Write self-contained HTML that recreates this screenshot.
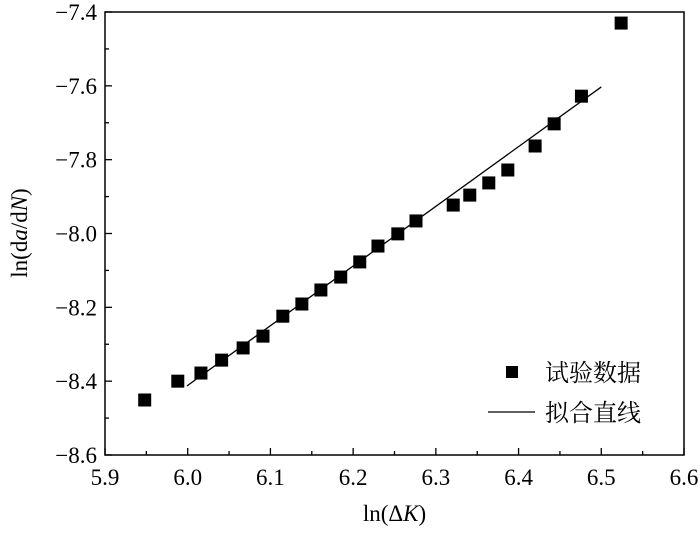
<!DOCTYPE html>
<html><head><meta charset="utf-8"><style>
body{margin:0;background:#fff}
svg text{font-family:"Liberation Serif","Noto Serif CJK SC",serif;fill:#000}
</style></head><body>
<svg id="c" width="700" height="530" xmlns="http://www.w3.org/2000/svg"></svg>
<script>
const xTicks=[5.9,6.0,6.1,6.2,6.3,6.4,6.5,6.6];
const yTicks=[-8.6,-8.4,-8.2,-8.0,-7.8,-7.6,-7.4];
const dataX=[5.948,5.988,6.016,6.041,6.067,6.091,6.115,6.138,6.161,6.185,6.208,6.230,6.254,6.276,6.321,6.341,6.364,6.387,6.420,6.443,6.476,6.524];
const dataY=[-8.451,-8.400,-8.378,-8.343,-8.310,-8.278,-8.224,-8.191,-8.153,-8.118,-8.077,-8.034,-8.001,-7.966,-7.923,-7.896,-7.863,-7.828,-7.763,-7.703,-7.628,-7.430];
const fitX=[5.999,6.500];
const fitY=[-8.413,-7.603];
const L=105,R=684,T=12,B=455;
const sx=v=>L+(v-5.9)/0.7*(R-L);
const sy=v=>B-(v+8.6)/1.2*(B-T);
const svg=document.getElementById('c');
const NS='http://www.w3.org/2000/svg';
function mk(t,a,txt){const e=document.createElementNS(NS,t);for(const k in a)e.setAttribute(k,a[k]);if(txt!=null)e.textContent=txt;svg.appendChild(e);return e;}
let e;
e=mk('rect',{x:L,y:T,width:R-L,height:B-T,fill:'none',stroke:'#000','stroke-width':1.5});


xTicks.forEach((v,i)=>{
  const x=sx(v);
  e=mk('line',{x1:x,x2:x,y1:B,y2:B-7,stroke:'#000','stroke-width':1.3});
  
  
  if(i<xTicks.length-1){const xm=sx(v+0.05);
    e=mk('line',{x1:xm,x2:xm,y1:B,y2:B-4,stroke:'#000','stroke-width':1.3});
    
    }
  e=mk('text',{x:x,y:B+30,'font-size':23,'text-anchor':'middle'},v.toFixed(1));
  
  
});
yTicks.forEach((v,i)=>{
  const y=sy(v);
  e=mk('line',{x1:L,x2:L+7,y1:y,y2:y,stroke:'#000','stroke-width':1.3});
  
  
  if(i<yTicks.length-1){const ym=sy(v+0.1);
    e=mk('line',{x1:L,x2:L+4,y1:ym,y2:ym,stroke:'#000','stroke-width':1.3});
    
    }
  e=mk('text',{x:L-8,y:y+8,'font-size':23,'text-anchor':'end'},'\u2212'+Math.abs(v).toFixed(1));
  
  
});
e=mk('line',{x1:sx(fitX[0]),y1:sy(fitY[0]),x2:sx(fitX[1]),y2:sy(fitY[1]),stroke:'#000','stroke-width':1.3});


dataX.forEach((v,i)=>{
  e=mk('rect',{x:sx(v)-6.5,y:sy(dataY[i])-6.5,width:13,height:13,fill:'#000'});
  
  
});
e=mk('text',{x:(L+R)/2,y:521,'font-size':23,'text-anchor':'middle'});
e.innerHTML='ln(&#916;<tspan font-style="italic">K</tspan>)';


e=mk('text',{x:0,y:0,'font-size':23,'text-anchor':'middle',transform:'translate(27,233) rotate(-90)'});
e.innerHTML='ln(d<tspan font-style="italic">a</tspan>/d<tspan font-style="italic">N</tspan>)';


e=mk('rect',{x:506,y:366,width:12,height:12,fill:'#000'});


e=mk('text',{x:545,y:381,'font-size':24},'试验数据');


e=mk('line',{x1:488,x2:535,y1:412,y2:412,stroke:'#000','stroke-width':1.3});


e=mk('text',{x:545,y:421,'font-size':24},'拟合直线');


</script>
</body></html>
